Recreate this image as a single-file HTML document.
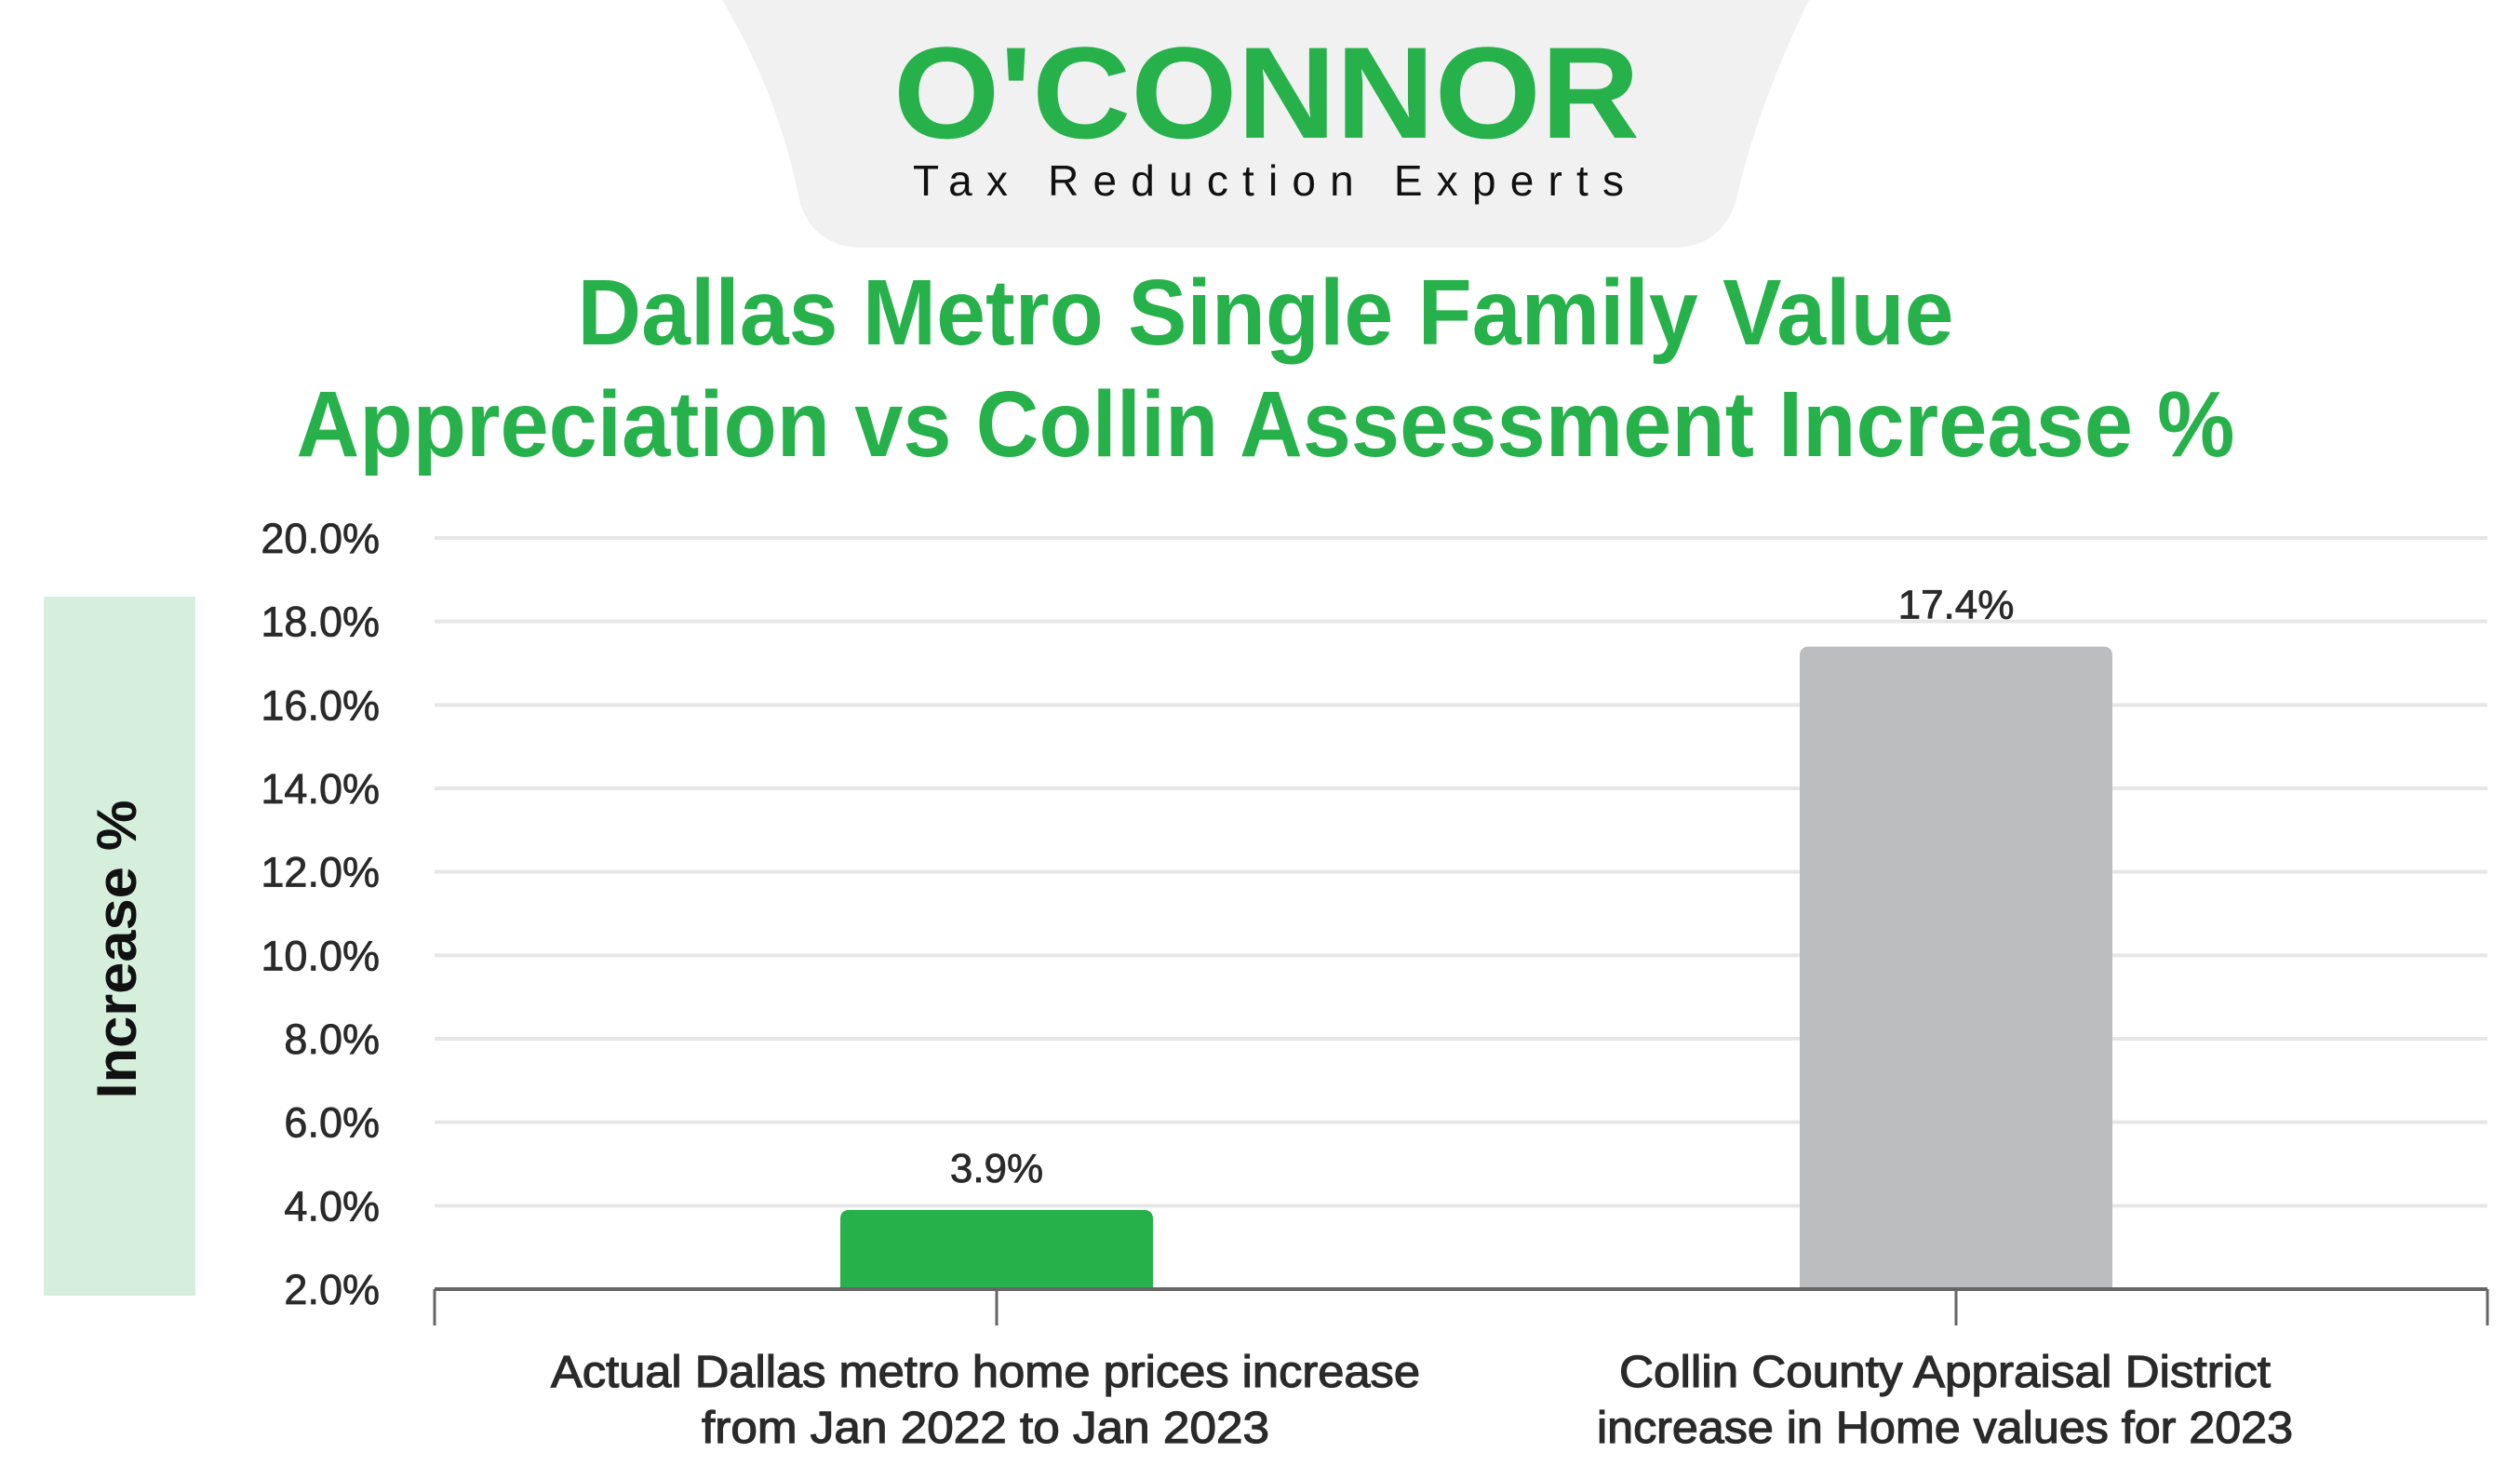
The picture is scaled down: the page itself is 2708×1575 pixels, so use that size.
<!DOCTYPE html>
<html><head><meta charset="utf-8"><style>
html,body{margin:0;padding:0;background:#fff;}
svg{display:block;font-family:"Liberation Sans",sans-serif;}
</style></head><body>
<svg width="2708" height="1575" viewBox="0 0 2708 1575" xmlns="http://www.w3.org/2000/svg">
<path d="M776 0 L1944 0 C1900 90 1875 170 1866 215 C1855 250 1830 266 1800 266 L925 266 C895 266 868 250 859 215 C850 170 830 90 776 0 Z" fill="#f1f1f1"/>
<text x="1361" y="148" text-anchor="middle" font-size="140" font-weight="bold" fill="#27b14b" textLength="802" lengthAdjust="spacingAndGlyphs">O'CONNOR</text>
<text x="1363" y="210" text-anchor="middle" font-size="46" fill="#111" textLength="764" lengthAdjust="spacing">Tax Reduction Experts</text>
<text x="1360" y="370" text-anchor="middle" font-size="100" font-weight="bold" fill="#27b14b" textLength="1479" lengthAdjust="spacingAndGlyphs">Dallas Metro Single Family Value</text>
<text x="1360" y="490" text-anchor="middle" font-size="100" font-weight="bold" fill="#27b14b" textLength="2083" lengthAdjust="spacingAndGlyphs">Appreciation vs Collin Assessment Increase %</text>
<rect x="47" y="641" width="163" height="751" fill="#d5efdc"/>
<text transform="translate(146,1020) rotate(-90)" text-anchor="middle" font-size="60" font-weight="bold" fill="#111" textLength="321" lengthAdjust="spacingAndGlyphs">Increase %</text>
<g id="grid"></g><g id="bars"></g><g id="axis"></g>
</svg>
<script>
const categoriesLine1 = ["Actual Dallas metro home prices increase", "Collin County Appraisal District"];
const categoriesLine2 = ["from Jan 2022 to Jan 2023", "increase in Home values for 2023"];
const categoryWidths1 = [934, 700];
const categoryWidths2 = [610, 748];
const values = [3.9, 17.4];
const valueLabels = ["3.9%", "17.4%"];
const tickValues = [2, 4, 6, 8, 10, 12, 14, 16, 18, 20];
const tickLabels = ["2.0%","4.0%","6.0%","8.0%","10.0%","12.0%","14.0%","16.0%","18.0%","20.0%"];
const barColors = ["#27b14b", "#bcbdbf"];

const NS = "http://www.w3.org/2000/svg";
const yMin = 2, yMax = 20, yBottom = 1385, yTop = 578;
const xLeft = 467, xRight = 2673;
function y(v){ return yBottom - (v - yMin) / (yMax - yMin) * (yBottom - yTop); }
function xc(i){ return 1071 + i * 1031; }
function mk(tag, attrs, parent){ const e = document.createElementNS(NS, tag); for (const k in attrs) e.setAttribute(k, attrs[k]); parent.appendChild(e); return e; }
const grid = document.getElementById('grid'), bars = document.getElementById('bars'), axis = document.getElementById('axis');
tickValues.forEach((t, i) => {
  if (t !== yMin) {
    const l = mk('line', {x1: xLeft, x2: xRight, y1: y(t), y2: y(t), stroke: '#e6e6e6', 'stroke-width': 4}, grid);
    
    
  }
  const tx = mk('text', {x: 408, y: y(t) + 16, 'text-anchor': 'end', 'font-size': 45, fill: '#2a2a2a', stroke: '#2a2a2a', 'stroke-width': 0.8}, grid);
  tx.textContent = tickLabels[i];
  
  
});
values.forEach((v, i) => {
  const x0 = xc(i) - 168, w = 336, top = y(v), r = 10;
  const p = mk('path', {d: `M${x0} ${yBottom} L${x0} ${top + r} Q${x0} ${top} ${x0 + r} ${top} L${x0 + w - r} ${top} Q${x0 + w} ${top} ${x0 + w} ${top + r} L${x0 + w} ${yBottom} Z`, fill: barColors[i]}, bars);
  
  
  const lb = mk('text', {x: xc(i), y: top - 30, 'text-anchor': 'middle', 'font-size': 44, fill: '#2a2a2a', stroke: '#2a2a2a', 'stroke-width': 0.8}, bars);
  lb.textContent = valueLabels[i];
  
  
  const c1 = mk('text', {x: xc(i) - 12, y: 1490, 'text-anchor': 'middle', 'font-size': 48, fill: '#2a2a2a', stroke: '#2a2a2a', 'stroke-width': 1.2, textLength: categoryWidths1[i], lengthAdjust: 'spacingAndGlyphs'}, axis);
  c1.textContent = categoriesLine1[i];
  
  
  const c2 = mk('text', {x: xc(i) - 12, y: 1550, 'text-anchor': 'middle', 'font-size': 48, fill: '#2a2a2a', stroke: '#2a2a2a', 'stroke-width': 1.2, textLength: categoryWidths2[i], lengthAdjust: 'spacingAndGlyphs'}, axis);
  c2.textContent = categoriesLine2[i];
  
  
});
const base = mk('line', {x1: xLeft, x2: xRight, y1: yBottom, y2: yBottom, stroke: '#666', 'stroke-width': 4}, axis);


[xLeft, xc(0), xc(1), xRight].forEach(tx => {
  const t = mk('line', {x1: tx, x2: tx, y1: yBottom, y2: 1424, stroke: '#666', 'stroke-width': 3}, axis);
  
  
});
</script>
</body></html>
